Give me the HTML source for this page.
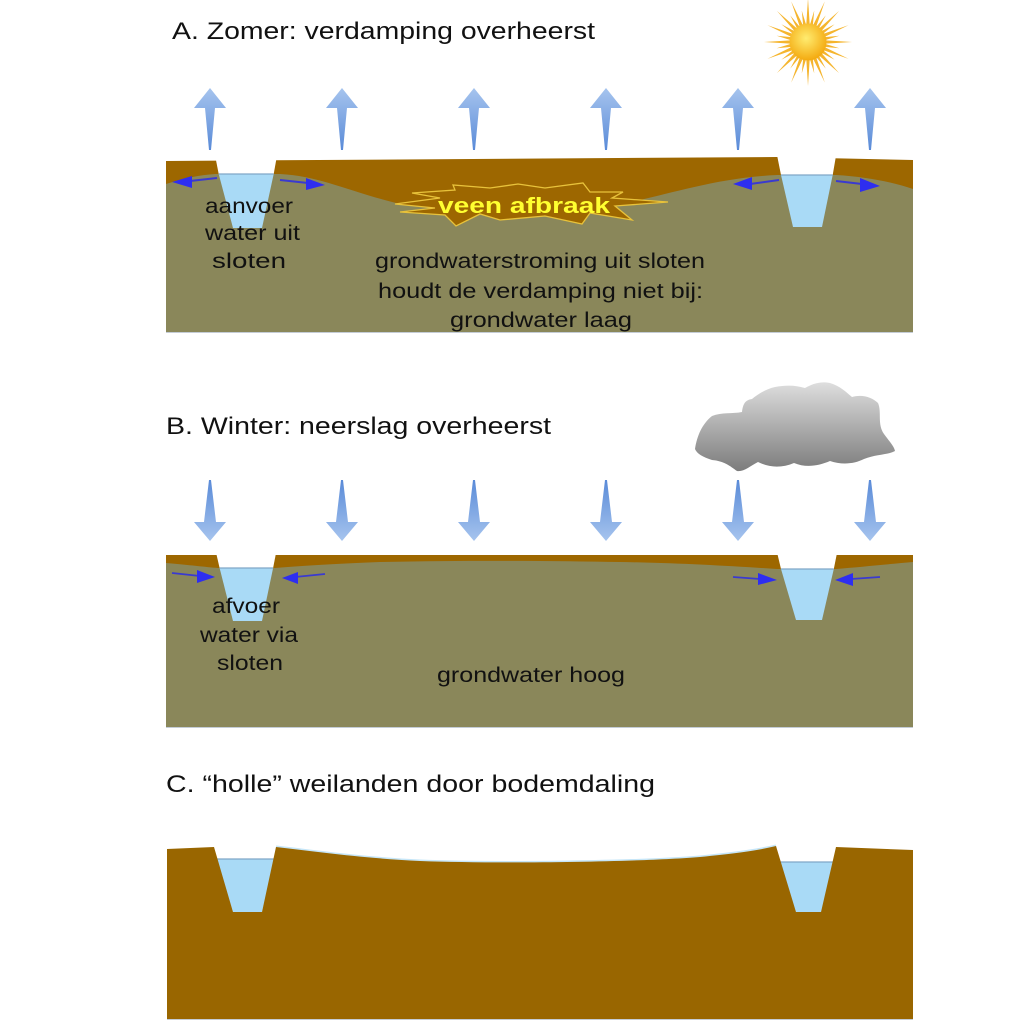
<!DOCTYPE html>
<html><head><meta charset="utf-8">
<style>
html,body{margin:0;padding:0;background:#fff;}
svg{display:block;}
text{font-family:"Liberation Sans",Arial,sans-serif;}
</style></head>
<body>
<svg width="1024" height="1024" viewBox="0 0 1024 1024" xmlns="http://www.w3.org/2000/svg">
<defs>
  <linearGradient id="upg" x1="0" y1="0" x2="0" y2="1">
    <stop offset="0" stop-color="#a6c4ee"/>
    <stop offset="1" stop-color="#5a8bd8"/>
  </linearGradient>
  <linearGradient id="dng" x1="0" y1="0" x2="0" y2="1">
    <stop offset="0" stop-color="#5a8bd8"/>
    <stop offset="1" stop-color="#a6c4ee"/>
  </linearGradient>
  <linearGradient id="cloudg" x1="0" y1="0" x2="0" y2="1">
    <stop offset="0" stop-color="#dedede"/>
    <stop offset="1" stop-color="#7c7c7c"/>
  </linearGradient>
  <radialGradient id="sung" cx="0.45" cy="0.4" r="0.6">
    <stop offset="0" stop-color="#ffec70"/>
    <stop offset="1" stop-color="#f4aa10"/>
  </radialGradient>
  <path id="up" d="M0,0 L16,20 L5,20 L1,62 L-1,62 L-5,20 L-16,20 Z" fill="url(#upg)"/>
  <path id="dn" d="M0,61 L16,42 L6,42 L1,0 L-1,0 L-6,42 L-16,42 Z" fill="url(#dng)"/>
  <polygon id="rayL" points="-1.8,-16 0,-44 1.8,-16" fill="#f5b52e"/>
  <polygon id="rayS" points="-1.6,-16 0,-32 1.6,-16" fill="#f5b52e"/>
</defs>

<!-- ===== Titles ===== -->
<text x="172" y="39" font-size="24.5" fill="#111" textLength="423" lengthAdjust="spacingAndGlyphs">A. Zomer: verdamping overheerst</text>
<text x="166" y="434" font-size="24.5" fill="#111" textLength="385" lengthAdjust="spacingAndGlyphs">B. Winter: neerslag overheerst</text>
<text x="166" y="792" font-size="24.5" fill="#111" textLength="489" lengthAdjust="spacingAndGlyphs">C. “holle” weilanden door bodemdaling</text>

<!-- ===== Sun ===== -->
<g transform="translate(808,42)">
  <use href="#rayL" transform="rotate(0)"/><use href="#rayL" transform="rotate(22.5)"/>
  <use href="#rayL" transform="rotate(45)"/><use href="#rayL" transform="rotate(67.5)"/>
  <use href="#rayL" transform="rotate(90)"/><use href="#rayL" transform="rotate(112.5)"/>
  <use href="#rayL" transform="rotate(135)"/><use href="#rayL" transform="rotate(157.5)"/>
  <use href="#rayL" transform="rotate(180)"/><use href="#rayL" transform="rotate(202.5)"/>
  <use href="#rayL" transform="rotate(225)"/><use href="#rayL" transform="rotate(247.5)"/>
  <use href="#rayL" transform="rotate(270)"/><use href="#rayL" transform="rotate(292.5)"/>
  <use href="#rayL" transform="rotate(315)"/><use href="#rayL" transform="rotate(337.5)"/>
  <use href="#rayS" transform="rotate(11.25)"/><use href="#rayS" transform="rotate(33.75)"/>
  <use href="#rayS" transform="rotate(56.25)"/><use href="#rayS" transform="rotate(78.75)"/>
  <use href="#rayS" transform="rotate(101.25)"/><use href="#rayS" transform="rotate(123.75)"/>
  <use href="#rayS" transform="rotate(146.25)"/><use href="#rayS" transform="rotate(168.75)"/>
  <use href="#rayS" transform="rotate(191.25)"/><use href="#rayS" transform="rotate(213.75)"/>
  <use href="#rayS" transform="rotate(236.25)"/><use href="#rayS" transform="rotate(258.75)"/>
  <use href="#rayS" transform="rotate(281.25)"/><use href="#rayS" transform="rotate(303.75)"/>
  <use href="#rayS" transform="rotate(326.25)"/><use href="#rayS" transform="rotate(348.75)"/>
  <circle r="18.5" fill="url(#sung)"/>
</g>

<!-- ===== Up arrows (A) ===== -->
<use href="#up" x="210" y="88"/>
<use href="#up" x="342" y="88"/>
<use href="#up" x="474" y="88"/>
<use href="#up" x="606" y="88"/>
<use href="#up" x="738" y="88"/>
<use href="#up" x="870" y="88"/>

<!-- ===== Panel A ===== -->
<polygon points="166,161 777,157 913,160 913,332 166,332" fill="#9d6700"/>
<path d="M166,184 C185,178 200,175 215,174 L280,174 C320,176 350,192 400,204 C450,213 560,213 610,206 C660,198 710,178 777,175 L836,175 C870,177 895,183 913,189 L913,332 L166,332 Z" fill="#8a875a"/>
<line x1="166" y1="332.5" x2="913" y2="332.5" stroke="#c4ccd6" stroke-width="1"/>
<!-- starburst -->
<polygon points="395,204 440,198 412,193 455,190 453,185 490,188 518,184 545,188 583,183 590,192 623,192 612,198 668,202 615,206 632,220 590,213 582,224 545,216 500,220 480,214 456,226 445,215 400,212 435,208" fill="#9d6700" stroke="#e8c23a" stroke-width="1.3"/>
<text x="438" y="213" font-size="22.5" font-weight="bold" fill="#ffff30" textLength="172" lengthAdjust="spacingAndGlyphs">veen afbraak</text>
<!-- ditches A -->
<polygon points="214,150 278,150 273.7,174 218.7,174" fill="#fff"/>
<polygon points="218.7,174 273.7,174 262,228 233,228" fill="#a9daf6"/>
<line x1="218.7" y1="174" x2="273.7" y2="174" stroke="#80a8c8" stroke-width="1.2"/>
<polygon points="776,150 837,150 832.7,175 781,175" fill="#fff"/>
<polygon points="781,175 832.7,175 822,227 793,227" fill="#a9daf6"/>
<line x1="781" y1="175" x2="832.7" y2="175" stroke="#80a8c8" stroke-width="1.2"/>
<!-- outflow arrows A -->
<g stroke="#3a3ad0" stroke-width="2">
  <line x1="217" y1="178" x2="190" y2="181"/>
  <line x1="280" y1="180" x2="308" y2="183"/>
  <line x1="779" y1="180" x2="750" y2="184"/>
  <line x1="836" y1="181" x2="862" y2="184"/>
</g>
<g fill="#2e2ef0">
  <polygon points="172,182 192,176 192,188"/>
  <polygon points="325,185 306,178 306,190"/>
  <polygon points="733,184 752,177 752,190"/>
  <polygon points="880,186 860,178 860,192"/>
</g>
<!-- labels A -->
<g font-size="21.5" fill="#111">
  <text x="205" y="213" textLength="88" lengthAdjust="spacingAndGlyphs">aanvoer</text>
  <text x="205" y="240" textLength="95" lengthAdjust="spacingAndGlyphs">water uit</text>
  <text x="212" y="268" textLength="74" lengthAdjust="spacingAndGlyphs">sloten</text>
  <text x="375" y="268" textLength="330" lengthAdjust="spacingAndGlyphs">grondwaterstroming uit sloten</text>
  <text x="378" y="298" textLength="325" lengthAdjust="spacingAndGlyphs">houdt de verdamping niet bij:</text>
  <text x="450" y="327" textLength="182" lengthAdjust="spacingAndGlyphs">grondwater laag</text>
</g>

<!-- ===== Cloud ===== -->
<path d="M695,449 C697,436 702,424 712,416 C722,412 732,414 742,412 C743,404 745,400 752,399 C758,394 766,389 775,387 C786,385 795,385 805,388 C812,384 820,381 830,383 C840,386 846,392 852,397 C862,394 872,397 878,403 C882,412 877,424 884,434 C889,441 894,446 895,451 C888,455 876,454 864,459 C854,464 842,465 830,461 C818,466 806,468 794,463 C782,468 770,468 758,462 C750,466 744,472 737,471 C730,466 724,461 712,460 C703,457 697,454 695,449 Z" fill="url(#cloudg)"/>

<!-- ===== Down arrows (B) ===== -->
<use href="#dn" x="210" y="480"/>
<use href="#dn" x="342" y="480"/>
<use href="#dn" x="474" y="480"/>
<use href="#dn" x="606" y="480"/>
<use href="#dn" x="738" y="480"/>
<use href="#dn" x="870" y="480"/>

<!-- ===== Panel B ===== -->
<polygon points="166,555 913,555 913,727 166,727" fill="#9d6700"/>
<path d="M166,563 C190,565 205,567 218,568 L275,568 C300,566 330,564 380,562 C480,560 560,561 620,562 C680,563 730,566 777,569 L836,569 C860,567 890,564 913,562 L913,727 L166,727 Z" fill="#8a875a"/>
<line x1="166" y1="727.5" x2="913" y2="727.5" stroke="#c4ccd6" stroke-width="1"/>
<polygon points="215,548 277,548 273.1,568 219.6,568" fill="#fff"/>
<polygon points="219.6,568 273.1,568 262,621 233,621" fill="#a9daf6"/>
<line x1="219.6" y1="568" x2="273.1" y2="568" stroke="#80a8c8" stroke-width="1.2"/>
<polygon points="776,548 838,548 833.8,569 781,569" fill="#fff"/>
<polygon points="781,569 833.8,569 822,620 796,620" fill="#a9daf6"/>
<line x1="781" y1="569" x2="833.8" y2="569" stroke="#80a8c8" stroke-width="1.2"/>
<!-- inflow arrows B -->
<g stroke="#3a3ad0" stroke-width="1.8">
  <line x1="172" y1="573" x2="200" y2="576"/>
  <line x1="325" y1="574" x2="295" y2="577"/>
  <line x1="733" y1="577" x2="760" y2="579"/>
  <line x1="880" y1="577" x2="851" y2="579"/>
</g>
<g fill="#2e2ef0">
  <polygon points="215,577 197,570 197,583"/>
  <polygon points="282,578 298,572 298,584"/>
  <polygon points="777,580 758,573 758,585"/>
  <polygon points="835,580 853,573 853,586"/>
</g>
<g font-size="21.5" fill="#111">
  <text x="212" y="613" textLength="68" lengthAdjust="spacingAndGlyphs">afvoer</text>
  <text x="200" y="642" textLength="98" lengthAdjust="spacingAndGlyphs">water via</text>
  <text x="217" y="670" textLength="66" lengthAdjust="spacingAndGlyphs">sloten</text>
  <text x="437" y="682" textLength="188" lengthAdjust="spacingAndGlyphs">grondwater hoog</text>
</g>

<!-- ===== Panel C ===== -->
<polygon points="216,859 275,859 262,912 233,912" fill="#a9daf6"/>
<line x1="216" y1="859" x2="275" y2="859" stroke="#80a8c8" stroke-width="1.2"/>
<polygon points="779,862 834,862 821,912 796,912" fill="#a9daf6"/>
<line x1="779" y1="862" x2="834" y2="862" stroke="#80a8c8" stroke-width="1.2"/>
<path d="M276,847 C320,852 360,858 420,861 C500,864 640,862 700,857 C740,853 760,850 776,846" fill="none" stroke="#c6e6f8" stroke-width="3"/>
<path d="M167,849 L214,847 L233,912 L262,912 L276,847 C320,852 360,858 420,861 C500,864 640,862 700,857 C740,853 760,850 776,846 L796,912 L821,912 L836,847 L913,850 L913,1019 L167,1019 Z" fill="#996600"/>
<line x1="167" y1="1019.5" x2="913" y2="1019.5" stroke="#c4ccd6" stroke-width="1"/>
</svg>
</body></html>
